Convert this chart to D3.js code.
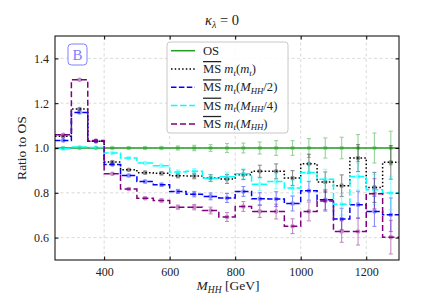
<!DOCTYPE html>
<html lang="en">
<head>
<meta charset="UTF-8">
<title>Ratio to OS</title>
<script src="https://cdn.jsdelivr.net/npm/d3@7"></script>
<style>
  body { margin: 0; background: white; }
  svg { display: block; }
  svg text { font-family: "Liberation Serif", "DejaVu Serif", serif; }
  .grid line { stroke: #d0d0d0; stroke-dasharray: 3,2.5; stroke-width: 0.8; }
</style>
</head>
<body>
<svg id="chart" width="444" height="305"></svg>
<script>
// bins (lower edges), all 50 GeV wide
const binLow = [250, 300, 350, 400, 450, 500, 550, 600, 650, 700, 750,
                800, 850, 900, 950, 1000, 1050, 1100, 1150, 1200, 1250];
const binWidth = 50;

const osRatio = [1, 1, 1, 1, 1, 1, 1, 1, 1, 1, 1, 1, 1, 1, 1, 1, 1, 1, 1, 1, 1];
const mtmt = [1.052, 1.174, 1.030, 0.937, 0.903, 0.890, 0.887, 0.876, 0.875, 0.866, 0.862,
              0.881, 0.896, 0.896, 0.866, 0.930, 0.848, 0.832, 0.955, 0.824, 0.936];
const mhh2 = [1.034, 1.159, 1.030, 0.926, 0.877, 0.850, 0.836, 0.806, 0.794, 0.784, 0.777,
              0.806, 0.773, 0.772, 0.752, 0.809, 0.769, 0.683, 0.747, 0.717, 0.702];
const mhh4 = [0.997, 1.004, 1.002, 0.978, 0.955, 0.933, 0.921, 0.893, 0.896, 0.865, 0.872,
              0.885, 0.838, 0.851, 0.821, 0.891, 0.860, 0.749, 0.873, 0.814, 0.799];
const mhh = [1.059, 1.305, 1.033, 0.885, 0.817, 0.776, 0.766, 0.736, 0.736, 0.721, 0.692,
             0.739, 0.717, 0.716, 0.651, 0.717, 0.763, 0.627, 0.627, 0.796, 0.602];
// statistical uncertainty per bin (same size for every curve)
const errs = [0.003, 0.003, 0.003, 0.004, 0.005, 0.006, 0.007, 0.009, 0.012, 0.015, 0.02,
              0.022, 0.027, 0.033, 0.033, 0.042, 0.045, 0.048, 0.06, 0.067, 0.075];

const xTicks = [400, 600, 800, 1000, 1200];
const yTicks = [0.6, 0.8, 1.0, 1.2, 1.4];

const series = [
    {vals: osRatio, color: "#1f9e1f", dash: null, label: "os"},
    {vals: mtmt, color: "black", dash: "1.5,2.2", label: ["m", "t", "(", "m", "t", ")"]},
    {vals: mhh2, color: "blue", dash: "5.5,2.4", label: ["m", "t", "(", "M", "HH", "/2)"]},
    {vals: mhh4, color: "cyan", dash: "6.5,2.6", label: ["m", "t", "(", "M", "HH", "/4)"]},
    {vals: mhh, color: "purple", dash: "6,3", label: ["m", "t", "(", "M", "HH", ")"]}
];

const W = 444, H = 305;
const margin = {left: 55, right: 45, top: 36, bottom: 45};
const serif = "Liberation Serif";
const svg = d3.select("#chart");

const x = d3.scaleLinear().domain([250, 1300]).range([margin.left, W - margin.right]);
const y = d3.scaleLinear().domain([0.5, 1.5]).range([H - margin.bottom, margin.top]);

// grid
const grid = svg.append("g").attr("class", "grid");
grid.selectAll(".gx").data(xTicks).enter().append("line")
    .attr("x1", d => x(d)).attr("x2", d => x(d))
    .attr("y1", y(0.5)).attr("y2", y(1.5));
grid.selectAll(".gy").data(yTicks).enter().append("line")
    .attr("y1", d => y(d)).attr("y2", d => y(d))
    .attr("x1", x(250)).attr("x2", x(1300));

// curves
const step = d3.line().curve(d3.curveStepAfter)
    .x(d => x(d[0])).y(d => y(d[1]));

series.forEach(s => {
    const pts = binLow.map((b, i) => [b, s.vals[i]]);
    pts.push([binLow[binLow.length - 1] + binWidth, s.vals[s.vals.length - 1]]);
    const g = svg.append("g");
    g.append("path")
        .attr("d", step(pts))
        .attr("fill", "none")
        .attr("stroke", s.color)
        .attr("stroke-width", 1.5)
        .attr("stroke-dasharray", s.dash);

    const eg = g.append("g").attr("opacity", 0.45)
        .attr("stroke", s.color).attr("stroke-width", 1.1);
    binLow.forEach((b, i) => {
        const cx = x(b + binWidth / 2);
        const v = s.vals[i], e = errs[i];
        eg.append("line").attr("x1", cx).attr("x2", cx)
            .attr("y1", y(v - e)).attr("y2", y(v + e));
        eg.append("line").attr("x1", cx - 2).attr("x2", cx + 2)
            .attr("y1", y(v - e)).attr("y2", y(v - e));
        eg.append("line").attr("x1", cx - 2).attr("x2", cx + 2)
            .attr("y1", y(v + e)).attr("y2", y(v + e));
        eg.append("circle").attr("cx", cx).attr("cy", y(v)).attr("r", 2.3)
            .attr("fill", s.color).attr("stroke", "none");
    });
});

// frame + ticks
svg.append("rect")
    .attr("x", x(250)).attr("y", y(1.5))
    .attr("width", x(1300) - x(250)).attr("height", y(0.5) - y(1.5))
    .attr("fill", "none").attr("stroke", "black").attr("stroke-width", 1);

svg.append("g").attr("transform", `translate(0,${y(0.5)})`)
    .call(d3.axisBottom(x).tickValues(xTicks).tickSizeInner(-3.5).tickSizeOuter(0).tickPadding(7)
        .tickFormat(d3.format("d")))
    .call(g => g.select(".domain").remove())
    .call(g => g.attr("font-family", serif).attr("font-size", 12))
    .call(g => g.selectAll("text").attr("fill", "#222"));
svg.append("g").attr("transform", `translate(0,${y(1.5)})`)
    .call(d3.axisTop(x).tickValues(xTicks).tickSizeInner(-3.5).tickSizeOuter(0).tickFormat(""))
    .call(g => g.select(".domain").remove());
svg.append("g").attr("transform", `translate(${x(250)},0)`)
    .call(d3.axisLeft(y).tickValues(yTicks).tickSizeInner(-3.5).tickSizeOuter(0).tickPadding(6)
        .tickFormat(d3.format(".1f")))
    .call(g => g.select(".domain").remove())
    .call(g => g.attr("font-family", serif).attr("font-size", 12))
    .call(g => g.selectAll("text").attr("fill", "#222"));
svg.append("g").attr("transform", `translate(${x(1300)},0)`)
    .call(d3.axisRight(y).tickValues(yTicks).tickSizeInner(-3.5).tickSizeOuter(0).tickFormat(""))
    .call(g => g.select(".domain").remove());

// title
const title = svg.append("text").attr("x", 222).attr("y", 25)
    .attr("text-anchor", "middle").attr("font-size", 14.5).attr("fill", "#222");
title.append("tspan").attr("font-style", "italic").text("κ");
title.append("tspan").attr("font-size", 10).attr("dy", 3).attr("font-style", "italic").text("λ");
title.append("tspan").attr("dy", -3).text(" = 0");

// axis labels
const xl = svg.append("text").attr("x", 228).attr("y", 290)
    .attr("text-anchor", "middle").attr("font-size", 13.5).attr("fill", "#222");
xl.append("tspan").attr("font-style", "italic").text("M");
xl.append("tspan").attr("font-size", 9.5).attr("dy", 3).attr("font-style", "italic").text("HH");
xl.append("tspan").attr("dy", -3).text(" [GeV]");

svg.append("text")
    .attr("transform", `translate(26,${y(1.0)}) rotate(-90)`)
    .attr("text-anchor", "middle").attr("font-size", 13.5).attr("fill", "#222")
    .text("Ratio to OS");

// "B" badge
svg.append("rect").attr("x", 68).attr("y", 44).attr("width", 19).attr("height", 21)
    .attr("rx", 3.5).attr("fill", "white").attr("stroke", "#8080ff").attr("stroke-width", 1);
svg.append("text").attr("x", 77.5).attr("y", 59.5).attr("text-anchor", "middle")
    .attr("font-size", 15).attr("fill", "#8080ff").text("B");

// legend
const lg = svg.append("g");
lg.append("rect").attr("x", 167).attr("y", 42).attr("width", 121).attr("height", 91)
    .attr("rx", 3).attr("fill", "white").attr("fill-opacity", 0.85)
    .attr("stroke", "#c8c8c8").attr("stroke-width", 1);
series.forEach((s, i) => {
    const cy = 50.7 + i * 18.3;
    lg.append("line").attr("x1", 171).attr("x2", 195).attr("y1", cy).attr("y2", cy)
        .attr("stroke", s.color).attr("stroke-width", 1.5).attr("stroke-dasharray", s.dash);
    const t = lg.append("text").attr("x", 203).attr("y", cy + 4).attr("font-size", 12.6)
        .attr("fill", "#222");
    if (s.label === "os") {
        t.text("OS");
        return;
    }
    const lb = s.label;
    t.append("tspan").style("text-decoration", "overline").text("MS");
    t.append("tspan").text(" ");
    t.append("tspan").attr("font-style", "italic").text(lb[0]);
    t.append("tspan").attr("font-style", "italic").attr("font-size", 8.8).attr("dy", 2.5).text(lb[1]);
    t.append("tspan").attr("dy", -2.5).text(lb[2]);
    t.append("tspan").attr("font-style", "italic").text(lb[3]);
    t.append("tspan").attr("font-style", "italic").attr("font-size", 8.8).attr("dy", 2.5).text(lb[4]);
    t.append("tspan").attr("dy", -2.5).text(lb[5]);
});
</script>
</body>
</html>
